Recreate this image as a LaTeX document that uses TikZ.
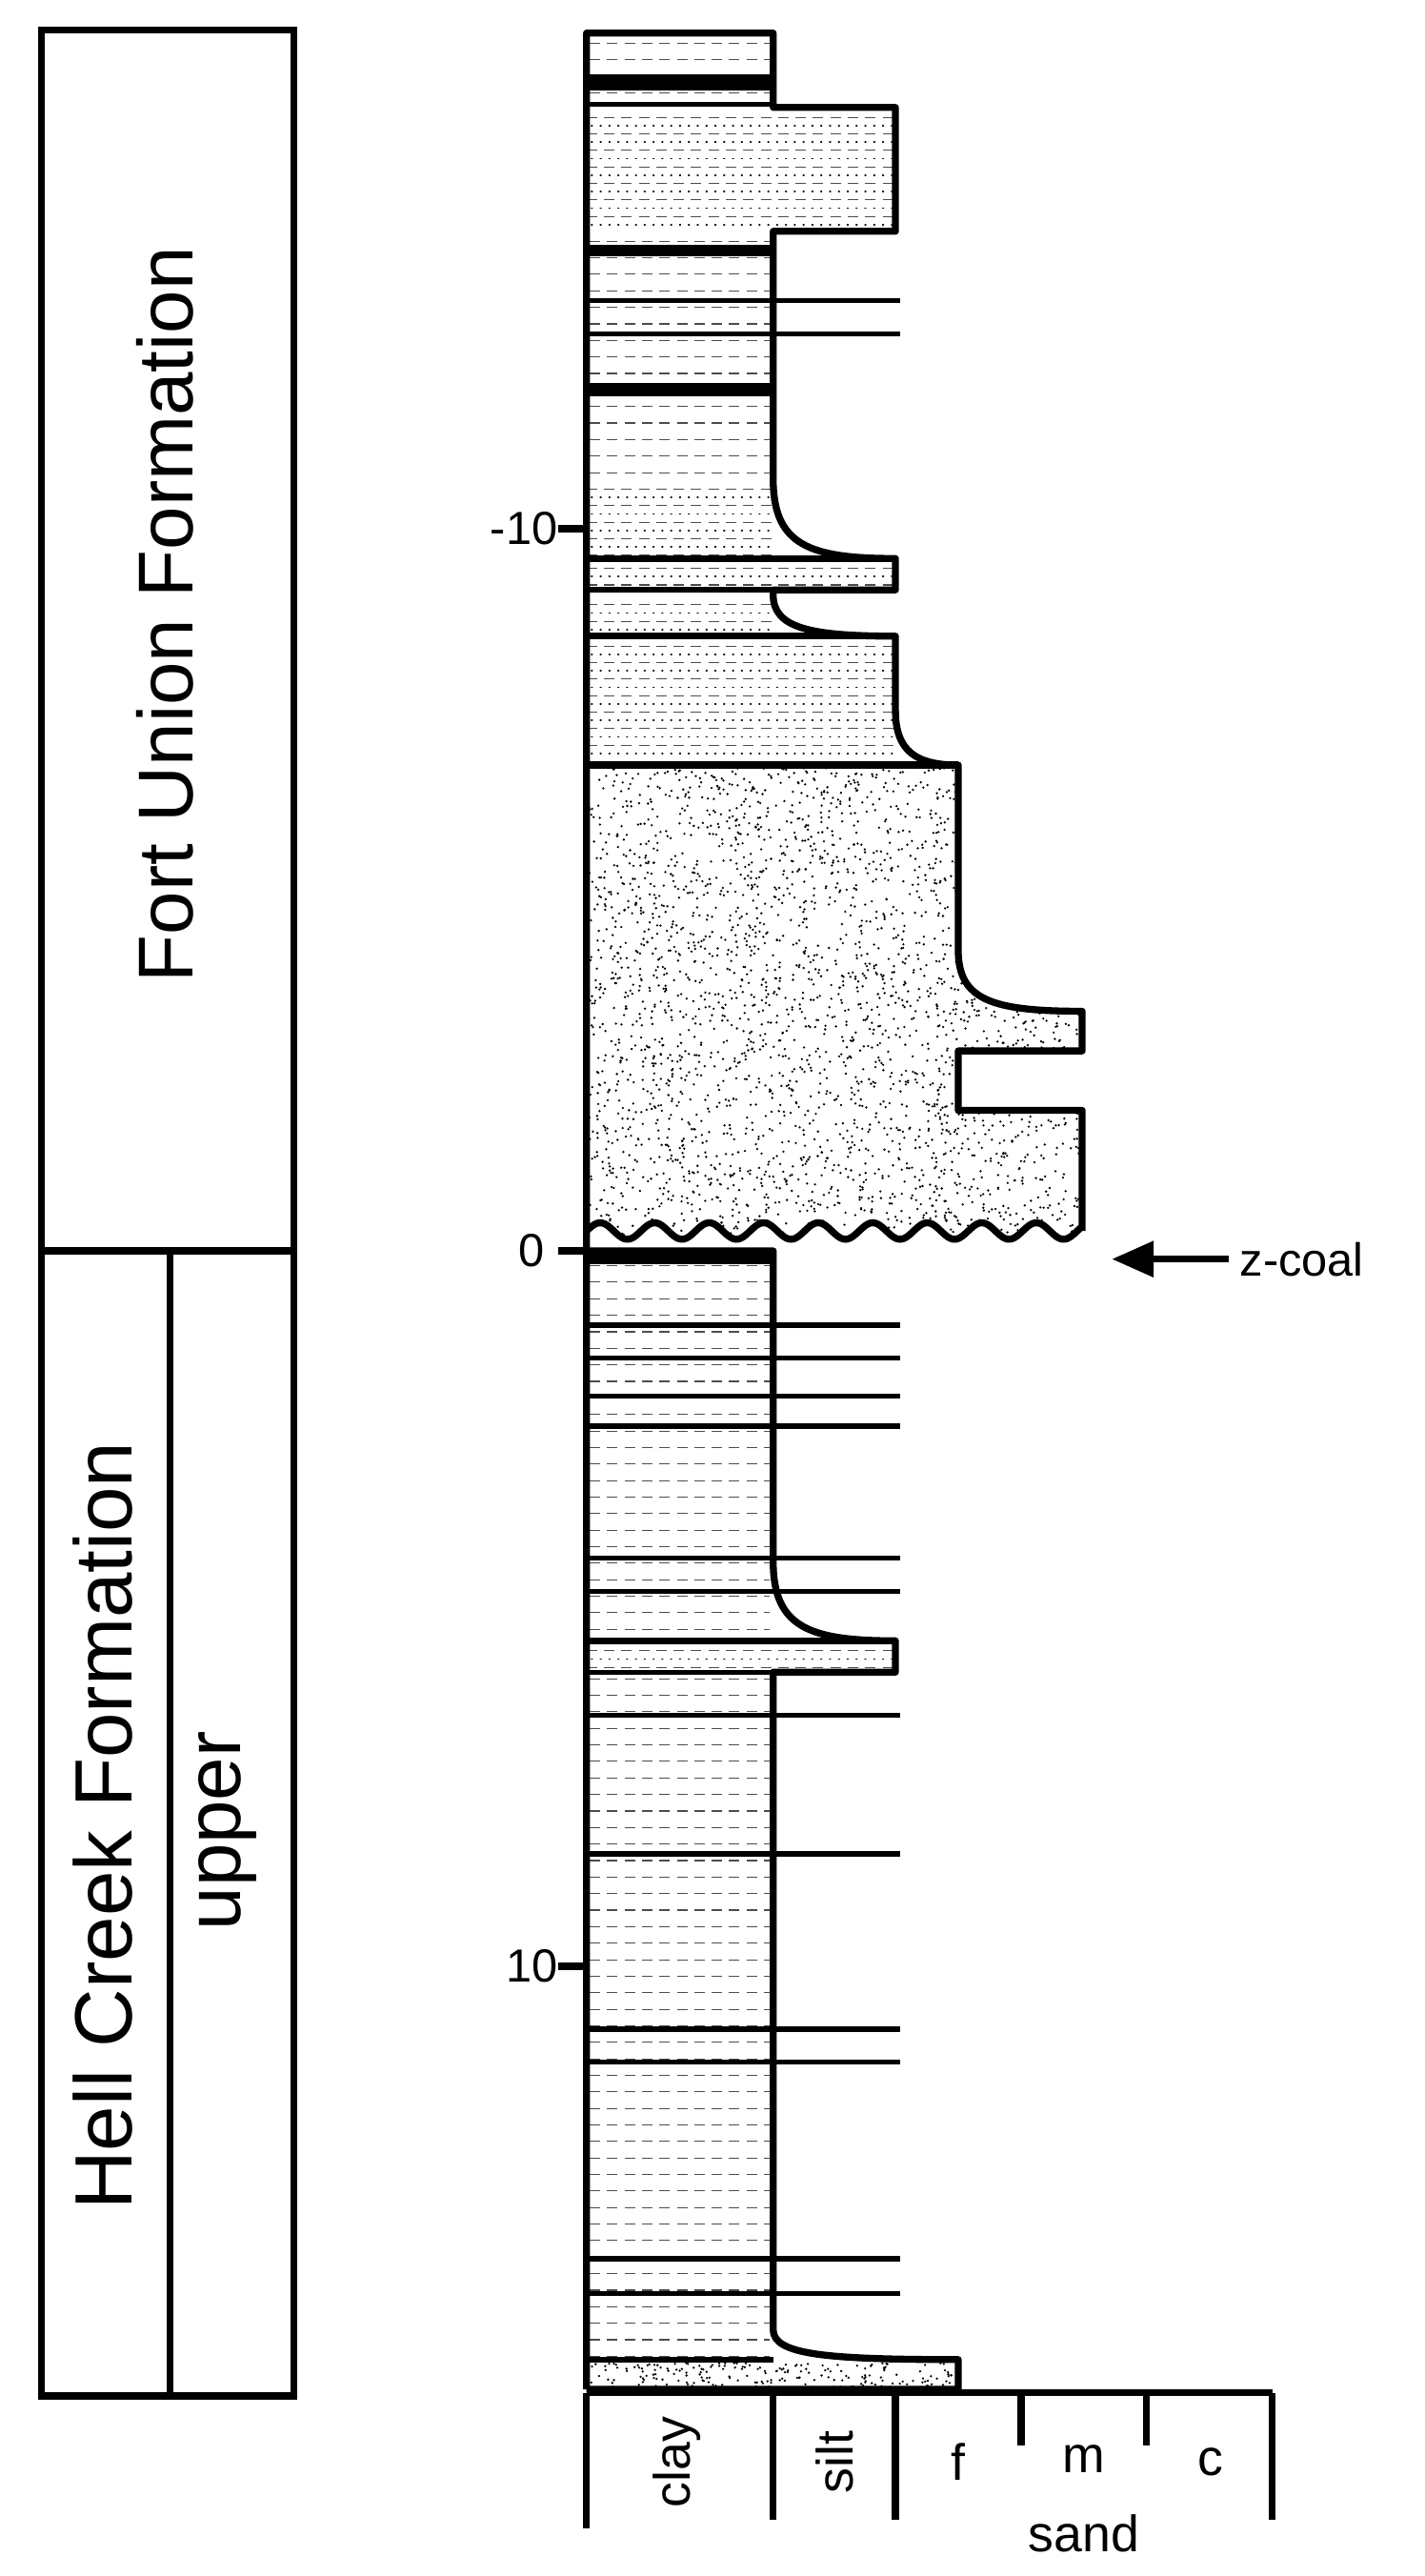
\documentclass[tikz,border=0pt]{standalone}
\usepackage{fontspec}
\setmainfont{Liberation Sans}
\usetikzlibrary{patterns,arrows.meta}
\begin{document}
\begin{tikzpicture}[x=0.05cm,y=-0.05cm,
 thk/.style={line width=6pt},
 thn/.style={line width=4.5pt},
 dsh/.style={line width=0.9pt,dash pattern=on 9pt off 6pt,gray!60!black},
 dts/.style={line width=1.4pt,dash pattern=on 0.6pt off 7pt,line cap=round}]
\useasboundingbox (0,0) rectangle (862,1559);
% clay background
\fill[white] (355,20) rectangle (468,1446);
\foreach \y in {26,36,...,1440} \draw[dsh] (357,\y)--(466,\y);
% silt macro
\newcommand{\siltbox}[4]{\fill[white] (#1,#2) rectangle (#3,#4);
 \begin{scope}\clip (#1,#2) rectangle (#3,#4);
 \pgfmathtruncatemacro{\ya}{#2+6}
 \pgfmathtruncatemacro{\yb}{#2+16}
 \foreach \y in {\ya,\yb,...,#4} {\draw[dsh] (#1,\y)--(#3,\y); \draw[dts] ({#1+3},{\y+5})--(#3,{\y+5});}
 \end{scope}}
\siltbox{355}{65}{542}{140}
\siltbox{355}{338}{542}{357}
\siltbox{355}{385}{542}{463}
\siltbox{355}{993}{542}{1012}
\siltbox{355}{290}{468}{338}
\siltbox{355}{360}{468}{385}
% curve fills
\fill[white] (468,290) .. controls (468,330) and (490,338) .. (542,338) -- (468,338) -- cycle;
\fill[white] (468,360) .. controls (468,380) and (490,385) .. (542,385) -- (468,385) -- cycle;
\fill[white] (542,430) .. controls (542,455) and (555,463) .. (580,463) -- (542,463) -- cycle;
\fill[white] (468,945) .. controls (468,985) and (490,993) .. (542,993) -- (468,993) -- cycle;
\fill[white] (468,1410) .. controls (468,1425) and (500,1428) .. (580,1428) -- (468,1428) -- cycle;
% sand
\pgfmathsetseed{7}
\begin{scope}
\clip (355,463) -- (580,463) -- (580,575) .. controls (580,605) and (600,612) .. (655,612) -- (655,636) -- (580,636) -- (580,672) -- (655,672) -- (655,750) -- (355,750) -- cycle;
\fill[white] (355,463) rectangle (655,750);
\foreach \i in {1,...,3200} {\fill ({355+300*rnd},{463+287*rnd}) circle (0.75);}
\end{scope}
\fill[white] (355,745) -- plot[domain=355:655,samples=200] (\x,{745-5*sin((\x-355)*10.909)}) -- (655,756) -- (355,756) -- cycle;
\fill[white] (355,1428) rectangle (580,1446);
\foreach \i in {1,...,200} {\fill ({357+221*rnd},{1430+15*rnd}) circle (0.75);}
% coal
\fill (355,45) rectangle (468,55);
\fill (355,148) rectangle (468,155);
\fill (355,232) rectangle (468,240);
\fill (355,757) rectangle (468,765);
\draw[thn] (355,63)--(468,63);
% thin horizontal lines
\foreach \y in {182,202,802,822,845,863,943,963,1038,1122,1228,1248,1367,1388} \draw[thn] (355,\y)--(545,\y);
\foreach \y in {338,357,385,463,993,1012,1428} \draw[thn] (355,\y)--(468,\y);
% outline
\draw[thk,line join=round] (355,1446) -- (355,20) -- (468,20) -- (468,65) -- (542,65) -- (542,140) -- (468,140) -- (468,290)
 .. controls (468,330) and (490,338) .. (542,338) -- (542,357) -- (468,357) -- (468,360)
 .. controls (468,380) and (490,385) .. (542,385) -- (542,430)
 .. controls (542,455) and (555,463) .. (580,463) -- (580,575)
 .. controls (580,605) and (600,612) .. (655,612) -- (655,636) -- (580,636) -- (580,672) -- (655,672) -- (655,745);
\draw[thk] (355,338)--(542,338) (355,385)--(542,385) (355,463)--(580,463);
\draw[thk] plot[domain=355:655,samples=200] (\x,{745-5*sin((\x-355)*10.909)});
\draw[thk,line join=round] (355,757) -- (468,757) -- (468,945) .. controls (468,985) and (490,993) .. (542,993) -- (542,1012) -- (468,1012) -- (468,1410)
 .. controls (468,1425) and (500,1428) .. (580,1428) -- (580,1446) -- (355,1446);
\draw[thk] (355,993)--(542,993);
% axis
\draw[thk] (355,1448)--(770,1448);
\draw[thk] (355,1448)--(355,1530) (468,1448)--(468,1525) (542,1448)--(542,1525) (618,1448)--(618,1480) (694,1448)--(694,1480) (770,1448)--(770,1525);
% ticks
\draw[thk] (338,320)--(355,320) (338,757)--(355,757) (338,1190)--(355,1190);
\node[anchor=east,font=\fontsize{40}{48}\selectfont] (t1) at (340,320) {-10};
\node[anchor=east,font=\fontsize{40}{48}\selectfont] (t2) at (332,757) {0};
\node[anchor=east,font=\fontsize{40}{48}\selectfont] (t3) at (340,1190) {10};
% z-coal
\node[anchor=west,font=\fontsize{40}{48}\selectfont] (zc) at (748,762) {z-coal};
\coordinate (zs) at (744,762);
\draw[line width=6pt,-{Triangle[length=36pt,width=30pt]}] (zs) -- (673,762);
% left box
\draw[thk] (25,18) rectangle (178,1450);
\draw[thk] (25,757)--(178,757);
\draw[thk] (103,757)--(103,1450);
\node[rotate=90,font=\fontsize{67}{74}\selectfont] (fu) at (100,372) {Fort Union Formation};
\node[rotate=90,font=\fontsize{70}{78}\selectfont] (hc) at (62,1105) {Hell Creek Formation};
\node[rotate=90,font=\fontsize{67}{74}\selectfont] (up) at (138,1108) {upper};
% bottom labels
\node[rotate=90,font=\fontsize{44}{50}\selectfont] (cl) at (410,1490) {clay};
\node[rotate=90,font=\fontsize{44}{50}\selectfont] (si) at (505,1490) {silt};
\node[font=\fontsize{44}{50}\selectfont] (f) at (580,1490) {f};
\node[font=\fontsize{44}{50}\selectfont] (m) at (656,1488) {m};
\node[font=\fontsize{44}{50}\selectfont] (c) at (733,1490) {c};
\node[font=\fontsize{44}{50}\selectfont] (sd) at (656,1533) {sand};
\end{tikzpicture}
\end{document}
